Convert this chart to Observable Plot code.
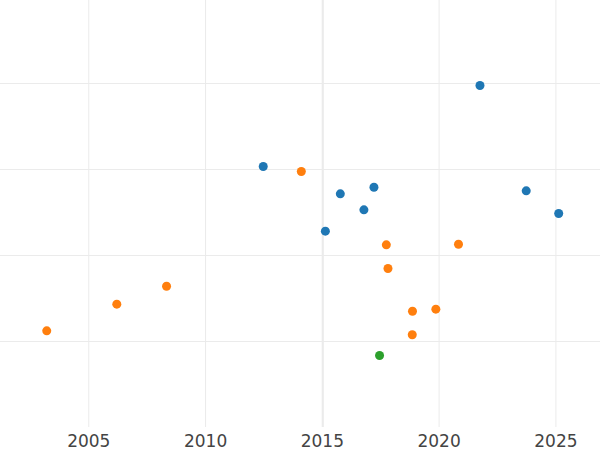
<!DOCTYPE html>
<html>
<head>
<meta charset="utf-8">
<script src="https://cdn.jsdelivr.net/npm/d3@7"></script>
<script src="https://cdn.jsdelivr.net/npm/@observablehq/plot@0.6"></script>
<style>
  html, body { margin: 0; padding: 0; background: #fff; }
  #chart svg { display: block; }
</style>
</head>
<body>
<div id="chart"></div>
<script>
// Series A (blue)
const seriesA_year = [2021.75, 2012.47, 2015.77, 2017.21, 2016.78, 2015.13, 2023.73, 2025.12];
const seriesA_value = [3.977, 3.035, 2.717, 2.794, 2.531, 2.283, 2.752, 2.488];
// Series B (orange)
const seriesB_year = [2014.10, 2017.74, 2020.83, 2017.81, 2008.33, 2006.20, 2003.20, 2018.86, 2019.86, 2018.85];
const seriesB_value = [2.977, 2.124, 2.131, 1.849, 1.643, 1.434, 1.124, 1.352, 1.376, 1.078];
// Series C (green)
const seriesC_year = [2017.45];
const seriesC_value = [0.837];

const seriesNames = ["A", "B", "C"];
const seriesColors = ["#1f77b4", "#ff7f0e", "#2ca02c"];
const xTicks = [2005, 2010, 2015, 2020, 2025];
const yTicks = [1, 2, 3, 4];
const refYear = [2015];

const data = [
  ...seriesA_year.map((x, i) => ({x, y: seriesA_value[i], s: "A"})),
  ...seriesB_year.map((x, i) => ({x, y: seriesB_value[i], s: "B"})),
  ...seriesC_year.map((x, i) => ({x, y: seriesC_value[i], s: "C"}))
];

const chart = Plot.plot({
  width: 600,
  height: 450,
  marginLeft: 0,
  marginRight: 0,
  marginTop: 0,
  marginBottom: 23,
  style: {fontFamily: "DejaVu Sans, sans-serif", background: "#fff"},
  x: {domain: [2001.22, 2026.91], ticks: xTicks, label: null},
  y: {domain: [0, 4.965], ticks: yTicks, axis: null, label: null},
  color: {domain: seriesNames, range: seriesColors},
  marks: [
    Plot.gridY(yTicks, {stroke: "#ebebeb", strokeOpacity: 1}),
    Plot.gridX(xTicks, {stroke: "#ebebeb", strokeOpacity: 1}),
    Plot.ruleX(refYear, {stroke: "#ebebeb", strokeWidth: 2, dx: 0.5}),
    Plot.axisX(xTicks, {tickSize: 0, tickPadding: 7, fontSize: 17, fill: "#444", label: null, tickFormat: d => String(d)}),
    Plot.dot(data, {x: "x", y: "y", fill: "s", r: 4.5, stroke: "none"})
  ]
});
document.getElementById("chart").appendChild(chart);
</script>
</body>
</html>
